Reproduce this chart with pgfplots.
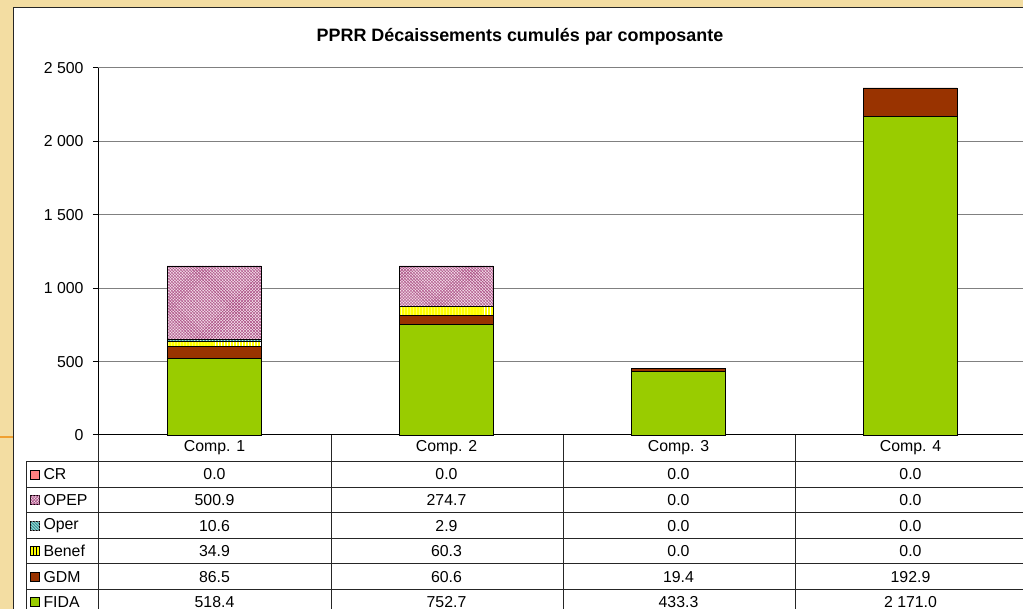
\documentclass[border=0pt]{standalone}
\usepackage{pgfplots}
\pgfplotsset{compat=1.18}
\usepackage{fontspec}
\setmainfont{Liberation Sans}
\usetikzlibrary{patterns}
\definecolor{fida}{HTML}{99CC00}
\definecolor{gdm}{HTML}{993300}
\definecolor{benef}{HTML}{FFFF00}
\definecolor{oper}{HTML}{339999}
\definecolor{opepbg}{HTML}{F2DCE8}
\definecolor{opepfg}{HTML}{A8477F}
\definecolor{cr}{HTML}{FF8080}
\definecolor{bgbeige}{HTML}{F3DDA2}
\definecolor{slideorange}{HTML}{F0A030}
\definecolor{gridgray}{HTML}{808080}
\newcommand{\tf}{\fontsize{15.9}{18}\selectfont}
\tikzset{opepstyle/.style={fill=opepbg, postaction={pattern=north east lines, pattern color=opepfg}, postaction={pattern=north west lines, pattern color=opepfg}}}
\begin{document}
\begin{tikzpicture}[x=1bp,y=1bp]
\useasboundingbox (0,0) rectangle (1023,609);
\clip (0,0) rectangle (1023,609);
\fill[bgbeige] (0,0) rectangle (1023,609);
\draw[slideorange,line width=1.2bp] (0,172) -- (13,172);
\filldraw[fill=white,draw=black!85,line width=1.5bp] (13.5,-10) rectangle (1040,601.5);
\node[font=\bfseries\fontsize{18}{20}\selectfont] at (520,572) {PPRR Décaissements cumulés par composante};
\begin{axis}[
  at={(98bp,174bp)}, anchor=south west,
  scale only axis, width=928bp, height=367bp,
  xmin=0.5, xmax=4.5, ymin=0, ymax=2500,
  ybar stacked, bar width=94bp,
  axis x line*=bottom, axis y line*=left,
  axis line style={black, line width=1bp, -},
  xtick=\empty,
  ytick={0,500,1000,1500,2000,2500},
  yticklabels={0,500,1 000,1 500,2 000,2 500},
  ymajorgrids, major grid style={gridgray, line width=1bp},
  tick align=outside, major tick length=5bp,
  ytick style={black, line width=1bp},
  yticklabel style={font=\tf, anchor=east, xshift=-6bp},
  clip=false,
]
\addplot[fill=fida, draw=black, line width=0.8bp] coordinates {(1,518.4) (2,752.7) (3,433.3) (4,2171.0)};
\addplot[fill=gdm, draw=black, line width=0.8bp] coordinates {(1,86.5) (2,60.6) (3,19.4) (4,192.9)};
\addplot[fill=benef, draw=black, line width=0.8bp, postaction={pattern=vertical lines, pattern color=white}] coordinates {(1,34.9) (2,60.3) (3,0) (4,0)};
\addplot[fill=oper, draw=black, line width=0.8bp, postaction={pattern=north west lines, pattern color=white}] coordinates {(1,10.6) (2,2.9) (3,0) (4,0)};
\addplot[opepstyle, draw=black, line width=0.8bp] coordinates {(1,500.9) (2,274.7) (3,0) (4,0)};
\addplot[fill=cr, draw=black, line width=0.8bp] coordinates {(1,0) (2,0) (3,0) (4,0)};
\end{axis}
% data table
\begin{scope}[black!85, line width=1bp]
\draw (98,174) -- (98,0);
\draw (331,174) -- (331,0);
\draw (563,174) -- (563,0);
\draw (795,174) -- (795,0);
\draw (26,147.5) -- (26,0);
\foreach \yy in {147.5,121.5,96,70.7,45,19.7} { \draw (26,\yy) -- (1023,\yy); }
\end{scope}
\begin{scope}[font=\tf]
\node at (214.5,161) {Comp. 1};
\node at (446.5,161) {Comp. 2};
\node at (678.5,161) {Comp. 3};
\node at (910.5,161) {Comp. 4};
% legend keys
\filldraw[fill=cr, draw=black, line width=0.7bp] (30.5,130) rectangle (39.5,139);
\filldraw[opepstyle, draw=black, line width=0.7bp] (30.5,104.2) rectangle (39.5,113.2);
\filldraw[fill=oper, draw=black, line width=0.7bp, postaction={pattern=north west lines, pattern color=white}] (30.5,78.8) rectangle (39.5,87.8);
\filldraw[fill=benef, draw=black, line width=0.7bp, postaction={pattern=vertical lines, pattern color=black}] (30.5,53.2) rectangle (39.5,62.2);
\filldraw[fill=gdm, draw=black, line width=0.7bp] (30.5,27.8) rectangle (39.5,36.8);
\filldraw[fill=fida, draw=black, line width=0.7bp] (30.5,2.5) rectangle (39.5,11.5);
\node[anchor=west] at (40,134.5) {CR};
\node[anchor=west] at (40,108.7) {OPEP};
\node[anchor=west] at (40,83.3) {Oper};
\node[anchor=west] at (40,57.7) {Benef};
\node[anchor=west] at (40,32.3) {GDM};
\node[anchor=west] at (40,7) {FIDA};
% values
\node at (214.5,134.5) {0.0};   \node at (446.5,134.5) {0.0};   \node at (678.5,134.5) {0.0};  \node at (910.5,134.5) {0.0};
\node at (214.5,108.7) {500.9}; \node at (446.5,108.7) {274.7}; \node at (678.5,108.7) {0.0};  \node at (910.5,108.7) {0.0};
\node at (214.5,83.3) {10.6};   \node at (446.5,83.3) {2.9};    \node at (678.5,83.3) {0.0};   \node at (910.5,83.3) {0.0};
\node at (214.5,57.7) {34.9};   \node at (446.5,57.7) {60.3};   \node at (678.5,57.7) {0.0};   \node at (910.5,57.7) {0.0};
\node at (214.5,32.3) {86.5};   \node at (446.5,32.3) {60.6};   \node at (678.5,32.3) {19.4};  \node at (910.5,32.3) {192.9};
\node at (214.5,7) {518.4};     \node at (446.5,7) {752.7};     \node at (678.5,7) {433.3};    \node at (910.5,7) {2 171.0};
\end{scope}
\end{tikzpicture}
\end{document}
